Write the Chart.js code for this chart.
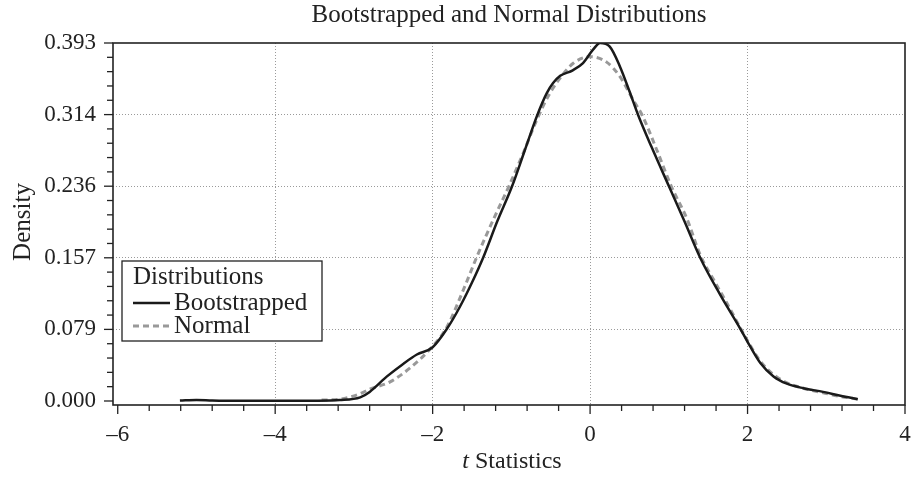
<!DOCTYPE html>
<html>
<head>
<meta charset="utf-8">
<title>Bootstrapped and Normal Distributions</title>
<script src="https://cdn.jsdelivr.net/npm/chart.js@4.4.1/dist/chart.umd.min.js"></script>
<style>
  html, body { margin: 0; padding: 0; background: #fff; }
  canvas { display: block; }
</style>
</head>
<body>
<canvas id="densityChart" width="911" height="479"></canvas>
<script>
// t statistics
const bootX = [-5.21, -5.0, -4.8, -4.5, -4.0, -3.5, -3.18, -2.92, -2.80, -2.58, -2.37, -2.20, -2.0,
  -1.82, -1.65, -1.50, -1.36, -1.18, -0.99, -0.83, -0.67, -0.55, -0.47, -0.38, -0.22, -0.09, 0.04, 0.127, 0.25,
  0.38, 0.50, 0.61, 0.78, 1.0, 1.2, 1.40, 1.65, 1.91, 2.0, 2.16, 2.33, 2.50, 2.71, 2.96, 3.18, 3.40];
const bootY = [0.0005, 0.0012, 0.0006, 0.0002, 0.0002, 0.0003, 0.001, 0.004, 0.010, 0.027, 0.041, 0.051, 0.059,
  0.079, 0.104, 0.130, 0.157, 0.197, 0.236, 0.275, 0.314, 0.338, 0.349, 0.357, 0.363, 0.371, 0.386, 0.393, 0.389,
  0.367, 0.340, 0.314, 0.279, 0.236, 0.197, 0.157, 0.117, 0.079, 0.065, 0.042, 0.027, 0.019, 0.014, 0.010, 0.0058, 0.002];

const normX = [-3.41, -3.18, -2.92, -2.80, -2.54, -2.29, -2.0, -1.82, -1.60, -1.44, -1.23, -1.03, -0.85, -0.67,
  -0.51, -0.35, -0.21, 0.0, 0.21, 0.38, 0.55, 0.66, 0.85, 1.03, 1.23, 1.40, 1.57, 1.74, 1.91, 2.0,
  2.16, 2.33, 2.50, 2.71, 2.96, 3.18, 3.40];
const normY = [0.001, 0.002, 0.008, 0.013, 0.021, 0.036, 0.060, 0.081, 0.124, 0.158, 0.199, 0.236, 0.272, 0.310,
  0.338, 0.358, 0.371, 0.378, 0.372, 0.356, 0.330, 0.314, 0.275, 0.236, 0.200, 0.160, 0.133, 0.107, 0.080, 0.066,
  0.044, 0.029, 0.020, 0.014, 0.009, 0.005, 0.002];

// axis ticks
const xTickValues = [-6, -4, -2, 0, 2, 4];
const xTickLabels = ['\u20136', '\u20134', '\u20132', '0', '2', '4'];
const yTickLabels = ['0.000', '0.079', '0.157', '0.236', '0.314', '0.393'];
const yMax = 0.393;

const FONT = '"Liberation Serif", "DejaVu Serif", serif';
const xMinor = 0.4;
const yStep = yMax / 5;
const yMinor = yStep / 5;

function isMultiple(v, step) {
    const r = v / step;
    return Math.abs(r - Math.round(r)) < 1e-6;
}

function toPoints(xs, ys) {
    return xs.map((x, i) => ({ x: x, y: ys[i] }));
}

// title, axis titles, frame, tick marks and legend box
const decorPlugin = {
    id: 'decor',
    afterDraw(chart) {
        const ctx = chart.ctx;
        const area = chart.chartArea;
        const xs = chart.scales.x;
        const ys = chart.scales.y;
        ctx.save();

        // frame
        ctx.strokeStyle = '#222';
        ctx.lineWidth = 1.6;
        ctx.strokeRect(area.left, area.top, area.right - area.left, area.bottom - area.top);

        // tick marks
        ctx.lineWidth = 1.3;
        xs.ticks.forEach(t => {
            const px = xs.getPixelForValue(t.value);
            const len = isMultiple(t.value, 2) ? 9 : 6;
            ctx.beginPath();
            ctx.moveTo(px, area.bottom);
            ctx.lineTo(px, area.bottom + len);
            ctx.stroke();
        });
        ys.ticks.forEach(t => {
            const py = ys.getPixelForValue(t.value);
            const len = isMultiple(t.value, yStep) ? 9 : 6;
            ctx.beginPath();
            ctx.moveTo(area.left, py);
            ctx.lineTo(area.left - len, py);
            ctx.stroke();
        });

        const cx = (area.left + area.right) / 2;
        const cy = (area.top + area.bottom) / 2;
        ctx.fillStyle = '#222';

        // main title
        ctx.font = '25px ' + FONT;
        ctx.textAlign = 'center';
        ctx.textBaseline = 'middle';
        ctx.fillText('Bootstrapped and Normal Distributions', cx, 15);

        // y title
        ctx.save();
        ctx.translate(23, cy - 2);
        ctx.rotate(-Math.PI / 2);
        ctx.fillText('Density', 0, 0);
        ctx.restore();

        // x title, italic t
        ctx.font = 'italic 24px ' + FONT;
        const tW = ctx.measureText('t').width;
        ctx.font = '24px ' + FONT;
        const sW = ctx.measureText(' Statistics').width;
        const x0 = cx + 3 - (tW + sW) / 2;
        ctx.textAlign = 'left';
        ctx.font = 'italic 24px ' + FONT;
        ctx.fillText('t', x0, 462);
        ctx.font = '24px ' + FONT;
        ctx.fillText(' Statistics', x0 + tW, 462);

        // legend
        const lx = 122, ly = 261, lw = 200, lh = 80;
        ctx.fillStyle = '#fff';
        ctx.fillRect(lx, ly, lw, lh);
        ctx.strokeStyle = '#222';
        ctx.lineWidth = 1.3;
        ctx.strokeRect(lx, ly, lw, lh);
        ctx.fillStyle = '#222';
        ctx.font = '25px ' + FONT;
        ctx.textBaseline = 'middle';
        ctx.fillText('Distributions', lx + 11, ly + 16);
        chart.data.datasets.forEach((ds, i) => {
            const rowY = ly + 42 + i * 23;
            ctx.save();
            ctx.strokeStyle = ds.borderColor;
            ctx.lineWidth = ds.borderWidth;
            ctx.setLineDash(ds.borderDash || []);
            ctx.beginPath();
            ctx.moveTo(lx + 11, rowY);
            ctx.lineTo(lx + 48, rowY);
            ctx.stroke();
            ctx.restore();
            ctx.fillText(ds.label, lx + 52, rowY);
        });

        ctx.restore();
    }
};

new Chart(document.getElementById('densityChart').getContext('2d'), {
    type: 'line',
    data: {
        datasets: [{
            label: 'Bootstrapped',
            data: toPoints(bootX, bootY),
            borderColor: '#1a1a1a',
            borderWidth: 2.5,
            pointRadius: 0,
            tension: 0.4,
            cubicInterpolationMode: 'monotone',
            fill: false
        }, {
            label: 'Normal',
            data: toPoints(normX, normY),
            borderColor: '#999',
            borderWidth: 3,
            borderDash: [6, 4],
            pointRadius: 0,
            tension: 0.4,
            cubicInterpolationMode: 'monotone',
            fill: false
        }]
    },
    options: {
        responsive: false,
        animation: false,
        layout: {
            padding: { top: 43, right: 6, left: 0, bottom: 0 }
        },
        plugins: {
            legend: { display: false },
            title: { display: false },
            tooltip: { enabled: false }
        },
        scales: {
            x: {
                type: 'linear',
                min: -6.06,
                max: 4,
                afterBuildTicks(scale) {
                    const ticks = [];
                    for (let v = -6; v <= 4 + 1e-9; v += xMinor) {
                        ticks.push({ value: Math.round(v * 10) / 10 });
                    }
                    scale.ticks = ticks;
                },
                afterFit(scale) {
                    scale.height = 74;
                    scale.paddingLeft = 0;
                    scale.paddingRight = 0;
                },
                border: { display: false, dash: [1, 2] },
                grid: {
                    drawTicks: false,
                    lineWidth: 1,
                    color: (c) => {
                        const v = c.tick ? c.tick.value : null;
                        return (v !== null && isMultiple(v, 2) && v > -6 && v < 4) ? '#9a9a9a' : 'transparent';
                    }
                },
                ticks: {
                    autoSkip: false,
                    maxRotation: 0,
                    padding: 16,
                    color: '#222',
                    font: { family: FONT, size: 23 },
                    callback: (value) => {
                        const i = xTickValues.findIndex(t => Math.abs(t - value) < 1e-6);
                        return i >= 0 ? xTickLabels[i] : '';
                    }
                }
            },
            y: {
                type: 'linear',
                min: -0.0044,
                max: yMax,
                afterBuildTicks(scale) {
                    const ticks = [];
                    for (let k = 0; k <= 25; k++) {
                        ticks.push({ value: k * yMinor });
                    }
                    scale.ticks = ticks;
                },
                afterFit(scale) { scale.width = 113; },
                border: { display: false, dash: [1, 2] },
                grid: {
                    drawTicks: false,
                    lineWidth: 1,
                    color: (c) => {
                        const v = c.tick ? c.tick.value : null;
                        return (v !== null && isMultiple(v, yStep) && v > 1e-6 && v < yMax - 1e-6) ? '#9a9a9a' : 'transparent';
                    }
                },
                ticks: {
                    autoSkip: false,
                    padding: 17,
                    color: '#222',
                    font: { family: FONT, size: 23 },
                    callback: (value) => {
                        if (!isMultiple(value, yStep)) return '';
                        return yTickLabels[Math.round(value / yStep)];
                    }
                }
            }
        }
    },
    plugins: [decorPlugin]
});
</script>
</body>
</html>
